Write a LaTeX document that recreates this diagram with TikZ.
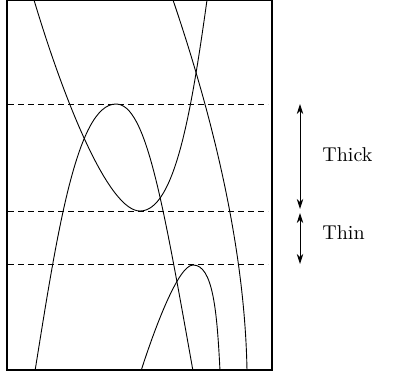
\documentclass[tikz,border=0pt]{standalone}
\usetikzlibrary{arrows.meta}
\tikzset{
  curve/.style={line width=0.45pt},
  level/.style={line width=0.45pt, dash pattern=on 3pt off 2pt},
  frame/.style={line width=1.2pt},
  span/.style={line width=0.45pt, {Stealth[length=5pt,width=3.2pt,inset=1.5pt]}-{Stealth[length=5pt,width=3.2pt,inset=1.5pt]}},
  lbl/.style={anchor=west, inner sep=0pt}
}
\begin{document}
\begin{tikzpicture}[x=0.5pt,y=-0.5pt]
\useasboundingbox (0,0) rectangle (394,374);
\begin{scope}
\clip (7,0) rectangle (272,370);
% parabola-like curve
\draw[curve] (34,0) .. controls (67,110) and (110,211) .. (140,211)
  .. controls (175,211) and (191.6,110) .. (207,0);
% hump curve
\draw[curve] (35,371) .. controls (56,241) and (76,104) .. (116,104)
  .. controls (146,104) and (162.7,201) .. (193,371);
% steep curve
\draw[curve] (173,0) .. controls (213.8,120) and (245,250) .. (247,371);
% small hump
\draw[curve] (141,371) .. controls (153.8,331) and (178,265) .. (193,265)
  .. controls (213,265) and (217,311) .. (220,371);
\end{scope}
\draw[level] (8,104) -- (268,104);
\draw[level] (8,211) -- (268,211);
\draw[level] (8,264) -- (268,264);
\draw[frame] (7,0) rectangle (272,370);
\coordinate (t1) at (300,104);
\coordinate (t2) at (300,209);
\coordinate (t3) at (300,213);
\coordinate (t4) at (300,264);
\draw[span] (t1) -- (t2);
\draw[span] (t3) -- (t4);
\node[lbl] (thick) at (322,155) {Thick};
\node[lbl] (thin) at (322,233) {Thin};
\end{tikzpicture}
\end{document}
